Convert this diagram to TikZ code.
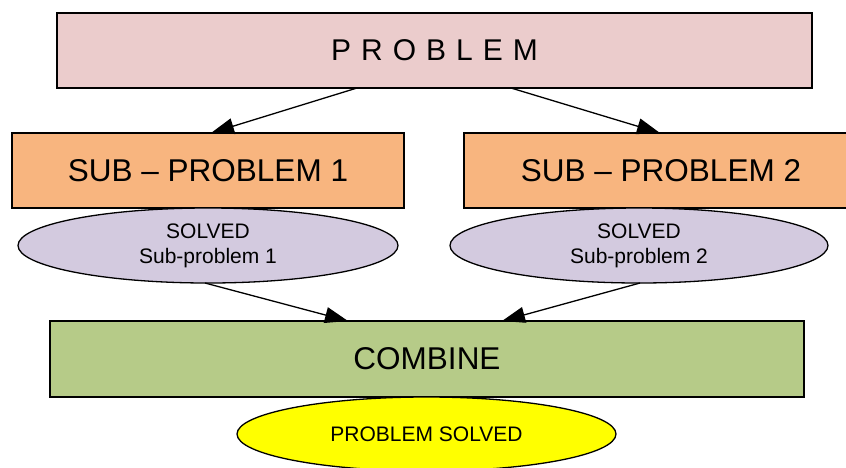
\documentclass[tikz,border=0pt]{standalone}
\usepackage{fontspec}
\setmainfont{Liberation Sans}
\usetikzlibrary{arrows.meta,shapes.geometric}
\definecolor{probpink}{HTML}{EBCCCC}
\definecolor{suborange}{HTML}{F8B57F}
\definecolor{solvedlilac}{HTML}{D3CADF}
\definecolor{combinegreen}{HTML}{B6CB88}
\definecolor{finalyellow}{HTML}{FFFF00}
\begin{document}
\begin{tikzpicture}[x=1pt,y=-1pt,
  box/.style={draw=black,line width=1.3pt,inner sep=0pt,outer sep=0pt},
  oval/.style={ellipse,draw=black,line width=1.3pt,inner sep=0pt,outer sep=0pt,align=center},
  flow/.style={line width=1.3pt,-{Triangle[length=23pt,width=16pt]}}]
  \useasboundingbox (0,0) rectangle (846,467);

  % top-level problem
  \node[box,fill=probpink,minimum width=755pt,minimum height=75pt,
        font=\fontsize{30}{36}\selectfont] (prob) at (434.5,50.5) {P\,\,R\,\,O\,\,B\,\,L\,\,E\,\,M};

  % the two sub-problems (the second runs past the right edge of the page)
  \node[box,fill=suborange,minimum width=392pt,minimum height=75pt,
        font=\fontsize{31.5}{38}\selectfont] (sub1) at (208,170.5) {SUB – PROBLEM 1};
  \node[box,fill=suborange,minimum width=394pt,minimum height=75pt,
        font=\fontsize{31.5}{38}\selectfont] (sub2) at (661,170.5) {SUB – PROBLEM 2};

  % solved sub-problems
  \node[oval,fill=solvedlilac,minimum width=380pt,minimum height=75pt,
        font=\fontsize{21}{25}\selectfont] (sol1) at (208,245.5) {SOLVED\\Sub-problem 1};
  \node[oval,fill=solvedlilac,minimum width=378pt,minimum height=75pt,
        font=\fontsize{21}{25}\selectfont] (sol2) at (639,245.5) {SOLVED\\Sub-problem 2};

  % combining step
  \node[box,fill=combinegreen,minimum width=754pt,minimum height=76pt,
        font=\fontsize{31.5}{38}\selectfont] (comb) at (427,359) {COMBINE};

  % final result
  \node[oval,fill=finalyellow,minimum width=379pt,minimum height=74pt,
        font=\fontsize{21}{25}\selectfont] (done) at (426.5,434) {PROBLEM SOLVED};

  % connectors
  \draw[flow] (prob.south -| 357,0) -- (sub1.north -| 211,0);
  \draw[flow] (prob.south -| 511,0) -- (sub2.north -| 660,0);
  \draw[flow] (sol1.south -| 205,0) -- (comb.north -| 348,0);
  \draw[flow] (sol2.south -| 640,0) -- (comb.north -| 502,0);
\end{tikzpicture}
\end{document}
